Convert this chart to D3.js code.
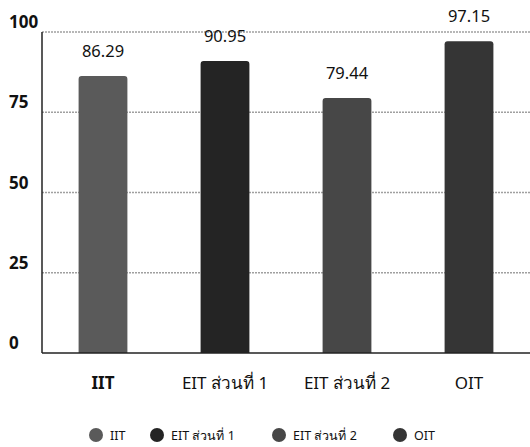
<!DOCTYPE html>
<html>
<head>
<meta charset="utf-8">
<script src="https://cdn.jsdelivr.net/npm/d3@7/dist/d3.min.js"></script>
<style>
html,body{margin:0;padding:0;background:#fff;}
text{font-family:"Noto Sans","Open Sans",sans-serif;fill:#111;}
</style>
</head>
<body>
<svg id="chart" width="530" height="447"></svg>
<script>
const categories = ["IIT", "EIT ส่วนที่ 1", "EIT ส่วนที่ 2", "OIT"];
const values = [86.29, 90.95, 79.44, 97.15];
const valueLabels = ["86.29", "90.95", "79.44", "97.15"];
const yTicks = [0, 25, 50, 75, 100];
const colors = ["#5a5a5a", "#242424", "#474747", "#353535"];

const svg = d3.select("#chart");
const plotLeft = 42, plotRight = 530, plotTop = 32, plotBottom = 353;

const x = d3.scaleBand().domain(categories).range([plotLeft, plotRight]).paddingInner(0.6).paddingOuter(0.3);
const y = d3.scaleLinear().domain([0, 100]).range([plotBottom, plotTop]);

// gridlines
svg.append("g").selectAll("line").data(yTicks.filter(d => d > 0)).join("line")
  .attr("x1", plotLeft).attr("x2", plotRight)
  .attr("y1", d => y(d)).attr("y2", d => y(d))
  .attr("stroke", "#a0a0a0").attr("stroke-width", 1.3).attr("stroke-dasharray", "2,1");

// y tick labels
svg.append("g").selectAll("text").data(yTicks).join("text")
  .attr("x", 9).attr("y", d => y(d) - 4)
  .attr("text-anchor", "start")
  .attr("font-size", 17).attr("font-weight", "bold")
  .text(d => d);

// bars
svg.append("g").selectAll("path").data(values).join("path")
  .attr("d", (d, i) => {
    const x0 = x(categories[i]), w = x.bandwidth(), y0 = y(d), r = 3;
    return `M${x0},${plotBottom} L${x0},${y0 + r} Q${x0},${y0} ${x0 + r},${y0} L${x0 + w - r},${y0} Q${x0 + w},${y0} ${x0 + w},${y0 + r} L${x0 + w},${plotBottom} Z`;
  })
  .attr("fill", (d, i) => colors[i]);

// value labels
svg.append("g").selectAll("text").data(values).join("text")
  .attr("x", (d, i) => x(categories[i]) + x.bandwidth() / 2)
  .attr("y", d => y(d) - 19)
  .attr("text-anchor", "middle")
  .attr("font-size", 16.5)
  .text((d, i) => valueLabels[i]);

// axes lines
svg.append("line").attr("x1", plotLeft).attr("x2", plotLeft).attr("y1", plotTop).attr("y2", plotBottom)
  .attr("stroke", "#222").attr("stroke-width", 1.5);
svg.append("line").attr("x1", plotLeft).attr("x2", plotRight).attr("y1", plotBottom).attr("y2", plotBottom)
  .attr("stroke", "#222").attr("stroke-width", 1.5);

// x labels
svg.append("g").selectAll("text").data(categories).join("text")
  .attr("x", d => x(d) + x.bandwidth() / 2)
  .attr("y", 389)
  .attr("text-anchor", "middle")
  .attr("font-size", 17)
  .attr("font-weight", (d, i) => i === 0 ? "bold" : "normal")
  .text(d => d);

// legend
const legendX = [96, 157, 279, 400];
const lg = svg.append("g").selectAll("g").data(categories).join("g")
  .attr("transform", (d, i) => `translate(${legendX[i]},435)`);
lg.append("circle").attr("r", 7).attr("fill", (d, i) => colors[i]);
lg.append("text").attr("x", 14).attr("y", 4.5).attr("font-size", 12.5).text(d => d);
</script>
</body>
</html>
